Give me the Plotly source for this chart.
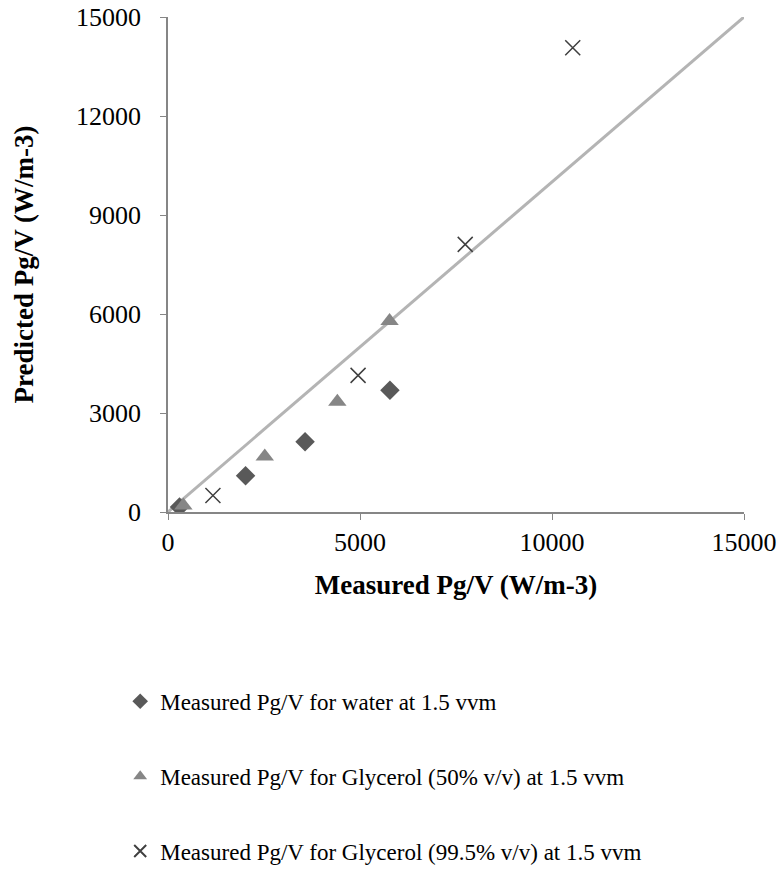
import plotly.graph_objects as go

water_x = [300, 2020, 3570, 5780]
water_y = [150, 1100, 2130, 3690]
gly50_x = [400, 2520, 4410, 5770]
gly50_y = [200, 1680, 3340, 5790]
gly995_x = [1170, 4950, 7740, 10540]
gly995_y = [500, 4140, 8110, 14070]
line_x = [0, 15000]
line_y = [0, 15000]
x_ticks = [0, 5000, 10000, 15000]
y_ticks = [0, 3000, 6000, 9000, 12000, 15000]

names = ["Measured Pg/V for water at 1.5 vvm",
         "Measured Pg/V for Glycerol (50% v/v) at 1.5 vvm",
         "Measured Pg/V for Glycerol (99.5% v/v) at 1.5 vvm"]

FONT = "Liberation Serif, Times New Roman, serif"

fig = go.Figure()
fig.add_trace(go.Scatter(x=line_x, y=line_y, mode="lines",
                         line=dict(color="#b4b4b4", width=3), showlegend=False, hoverinfo="skip"))
fig.add_trace(go.Scatter(x=water_x, y=water_y, mode="markers", name=names[0], legendgroup="a",
                         marker=dict(symbol="diamond", size=15, color="#595959")))
fig.add_trace(go.Scatter(x=gly50_x, y=gly50_y, mode="markers", name=names[1], legendgroup="b",
                         marker=dict(symbol="triangle-up", size=16, color="#868686")))
fig.add_trace(go.Scatter(x=gly995_x, y=gly995_y, mode="markers", name=names[2], legendgroup="c",
                         marker=dict(symbol="x-thin", size=15, color="#404040",
                                     line=dict(color="#404040", width=1.5))))

axis_common = dict(range=[0, 15000], showgrid=False, zeroline=False, showline=True,
                   linecolor="#868686", linewidth=1.5, ticks="outside", ticklen=6,
                   tickcolor="#868686", automargin=False,
                   tickfont=dict(family=FONT, size=26, color="#000"))

fig.update_layout(
    width=778, height=870,
    margin=dict(l=168, r=34, t=17, b=358, autoexpand=False),
    paper_bgcolor="white", plot_bgcolor="white",
    font=dict(family=FONT, color="#000"),
    xaxis=dict(**axis_common, tickvals=x_ticks, ticktext=[str(v) for v in x_ticks],
               title=dict(text="<b>Measured Pg/V (W/m-3)</b>", font=dict(family=FONT, size=27), standoff=19)),
    yaxis=dict(**axis_common, tickvals=y_ticks, ticktext=[str(v) for v in y_ticks],
               ticklabelstandoff=14,
               title=dict(text="<b>Predicted Pg/V (W/m-3)</b>", font=dict(family=FONT, size=27), standoff=35)),
    legend=dict(x=-0.083, y=-0.339, xanchor="left", yanchor="top", orientation="v",
                font=dict(family=FONT, size=23, color="#000"), tracegroupgap=42,
                itemsizing="constant", itemwidth=30, bgcolor="rgba(0,0,0,0)"),
)

fig.write_html("out.html")
